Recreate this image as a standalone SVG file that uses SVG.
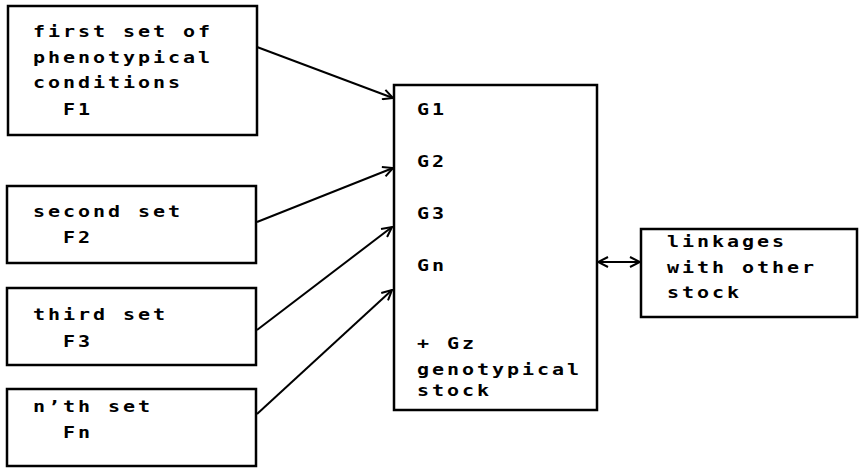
<svg xmlns="http://www.w3.org/2000/svg" width="859" height="469" viewBox="0 0 859 469">
<style>
rect.box{fill:#fff;stroke:#000;stroke-width:2.5}
text{font-family:"DejaVu Sans Mono","Liberation Mono",monospace;font-size:16px;font-weight:bold;letter-spacing:2.37px;fill:#000}
.conn line{stroke:#000;stroke-width:2}
</style>
<defs>
<marker id="ah" viewBox="0 0 12 12" refX="11" refY="6" markerWidth="12" markerHeight="12" markerUnits="userSpaceOnUse" orient="auto-start-reverse">
<path d="M1,1 L11,6 L1,11" fill="none" stroke="#000" stroke-width="2"/>
</marker>
</defs>
<rect width="859" height="469" fill="#fff"/>
<g id="f1">
<rect class="box" x="8" y="6" width="249" height="129"/>
<g transform="scale(1.25,1)">
<text x="26.4" y="37">first set of</text>
<text x="26.4" y="63">phenotypical</text>
<text x="26.4" y="88">conditions</text>
<text x="50.4" y="115">F1</text>
</g>
</g>
<g id="f2">
<rect class="box" x="7" y="186" width="249" height="77"/>
<g transform="scale(1.25,1)">
<text x="26.4" y="217">second set</text>
<text x="50.4" y="243">F2</text>
</g>
</g>
<g id="f3">
<rect class="box" x="7" y="288" width="249" height="77"/>
<g transform="scale(1.25,1)">
<text x="26.4" y="320">third set</text>
<text x="50.4" y="347">F3</text>
</g>
</g>
<g id="fn">
<rect class="box" x="7" y="389" width="249" height="77"/>
<g transform="scale(1.25,1)">
<text x="26.4" y="412">n’th set</text>
<text x="50.4" y="438">Fn</text>
</g>
</g>
<g id="g">
<rect class="box" x="394" y="85" width="203" height="325"/>
<g transform="scale(1.25,1)">
<text x="333.6" y="115">G1</text>
<text x="333.6" y="167">G2</text>
<text x="333.6" y="219">G3</text>
<text x="333.6" y="271">Gn</text>
<text x="333.6" y="349">+ Gz</text>
<text x="333.6" y="375">genotypical</text>
<text x="333.6" y="396">stock</text>
</g>
</g>
<g id="link">
<rect class="box" x="641" y="229" width="216" height="88"/>
<g transform="scale(1.25,1)">
<text x="533.6" y="247">linkages</text>
<text x="533.6" y="273">with other</text>
<text x="533.6" y="298">stock</text>
</g>
</g>
<g class="conn" id="connectors">
<line x1="257" y1="47" x2="393" y2="98" marker-end="url(#ah)"/>
<line x1="257" y1="222" x2="393" y2="168" marker-end="url(#ah)"/>
<line x1="257" y1="330" x2="392" y2="227" marker-end="url(#ah)"/>
<line x1="257" y1="414" x2="392" y2="290" marker-end="url(#ah)"/>
<line x1="598" y1="262" x2="640" y2="262" marker-start="url(#ah)" marker-end="url(#ah)"/>
</g>
</svg>
